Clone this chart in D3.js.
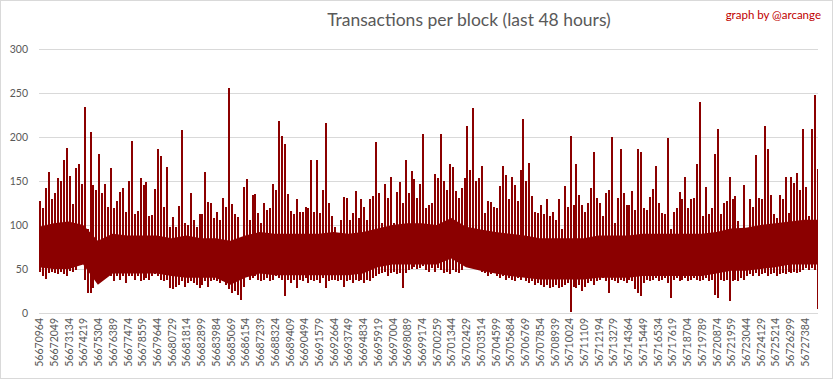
<!DOCTYPE html>
<html><head><meta charset="utf-8">
<script src="https://cdn.jsdelivr.net/npm/d3@7"></script>
<style>body{margin:0;background:#fff}svg{display:block}</style>
</head><body><svg id="c" width="833" height="379"></svg>
<script>
// ---- data ----
const firstBlock = 56670964;
const blockCount = 57400;      // blocks in the 48h window
const sampleSize = 217;        // blocks summarised per sample
const labelStep = 1085;        // blocks between axis labels
const tickLabels = ["56670964","56672049","56673134","56674219","56675304","56676389","56677474","56678559","56679644","56680729","56681814","56682899","56683984","56685069","56686154","56687239","56688324","56689409","56690494","56691579","56692664","56693749","56694834","56695919","56697004","56698089","56699174","56700259","56701344","56702429","56703514","56704599","56705684","56706769","56707854","56708939","56710024","56711109","56712194","56713279","56714364","56715449","56716534","56717619","56718704","56719789","56720874","56721959","56723044","56724129","56725214","56726299","56727384"];
const yTicks = [0,50,100,150,200,250,300];
// max transactions per 217-block sample
const sampleMax = [127,119,142,160,129,136,153,150,174,187,156,124,165,169,147,234,95,206,146,140,
181,136,147,121,165,119,127,137,142,115,150,196,112,116,153,145,149,110,111,141,
186,178,120,166,98,109,98,122,208,102,100,136,106,98,112,112,160,126,125,108,
115,106,131,120,256,124,112,109,80,143,152,106,134,135,114,102,125,117,119,147,
140,218,201,192,135,116,112,129,115,115,121,119,174,115,174,114,140,216,125,110,
98,91,106,132,131,106,114,139,108,129,121,106,129,133,194,136,102,147,131,154,
102,138,149,125,174,136,161,152,131,147,203,119,123,125,158,153,203,150,140,169,
166,139,131,142,153,213,163,233,150,153,167,114,127,126,121,119,144,167,157,129,
155,146,127,163,221,150,170,133,115,114,123,112,129,110,115,106,129,95,144,121,
201,123,169,134,123,115,125,142,183,131,125,110,136,140,200,102,131,186,136,123,
123,139,117,186,183,119,117,132,141,167,125,114,112,199,95,115,119,138,129,154,
119,129,131,169,240,110,143,112,119,181,209,112,125,127,155,129,133,104,95,146,
96,129,121,179,131,129,213,186,134,112,108,134,129,155,114,155,148,159,140,209,
143,110,209,248,164];
// min transactions per 217-block sample
const sampleMin = [47,42,39,45,47,45,44,47,44,42,48,47,49,55,60,38,23,23,28,42,
42,45,45,44,42,36,42,38,42,34,42,42,38,42,36,38,40,38,42,44,
42,38,36,38,28,27,30,32,36,30,34,36,34,32,28,32,36,30,36,38,
36,34,36,32,27,23,25,21,15,30,42,38,40,42,38,36,38,40,36,38,
42,40,38,19,38,34,38,28,38,36,40,34,38,36,38,34,40,28,36,38,
38,36,38,30,36,38,34,38,36,38,34,38,36,40,42,44,45,47,42,45,
47,44,45,28,45,49,50,52,50,51,53,49,47,51,47,51,49,45,47,44,
49,47,45,49,53,59,70,63,57,53,47,45,42,44,45,42,40,42,38,40,
38,36,40,38,42,36,34,36,32,34,32,30,32,28,30,32,28,30,32,34,
1,30,28,32,25,30,34,36,32,36,38,40,36,23,38,36,34,38,36,34,
38,36,27,23,19,34,38,36,38,40,36,38,40,34,17,38,40,36,38,40,
36,38,40,38,36,38,40,36,38,21,17,38,36,38,14,36,38,36,40,38,
42,44,42,45,42,44,45,42,44,45,42,44,45,44,47,45,47,45,47,49,
51,49,51,49,4];
// dense band (typical range) every 1085 blocks
const bandHigh = [98,102,104,100,82,90,88,88,88,85,88,85,85,82,88,92,90,90,90,90,
92,90,92,96,100,102,102,100,108,98,95,92,90,88,85,85,85,85,88,88,
88,90,90,90,90,90,92,96,97,100,102,104,106,106];
const bandLow = [52,50,50,55,32,45,45,45,45,42,40,40,40,32,40,45,43,43,43,43,
43,43,45,52,55,55,55,55,62,52,48,45,42,40,38,38,38,38,40,40,
40,42,42,42,42,42,45,48,48,50,52,55,55,55];

// ---- drawing ----
(function(){
const svg = d3.select("#c");
const W = 833, H = 379;
const pLeft = 39, pRight = 818, pTop = 49, pBottom = 313;
const red = "#8b0000";
const font = "Lato, 'Open Sans', sans-serif";

svg.append("rect").attr("x",0.5).attr("y",0.5).attr("width",W-1).attr("height",H-1)
  .attr("fill","#fff").attr("stroke","#d9d9d9");

const x = d3.scaleLinear().domain([0, blockCount]).range([pLeft, pRight]);
const y = d3.scaleLinear().domain([0, 300]).range([pBottom, pTop]);

svg.append("g").selectAll("line").data(yTicks).join("line")
  .attr("x1",pLeft).attr("x2",pRight)
  .attr("y1",d=>Math.round(y(d))+0.5).attr("y2",d=>Math.round(y(d))+0.5)
  .attr("stroke","#d9d9d9").attr("stroke-width",1);

const yAxis = d3.axisLeft(y).tickValues(yTicks).tickSize(0).tickPadding(0);
const gy = svg.append("g").attr("transform",`translate(${pLeft-11},0)`).call(yAxis);
gy.select(".domain").remove();
gy.selectAll("text").attr("font-family",font).attr("font-size",10.5).attr("fill","#595959");

svg.append("defs").append("clipPath").attr("id","plot")
  .append("rect").attr("x",pLeft).attr("y",0).attr("width",pRight-pLeft).attr("height",pBottom+6);

const g = svg.append("g").attr("clip-path","url(#plot)");

const area = d3.area()
  .x((d,k)=>x(k*labelStep))
  .y0((d,k)=>y(bandLow[k]))
  .y1(d=>y(d));
g.append("path").datum(bandHigh).attr("d",area).attr("fill",red);

g.append("g").attr("shape-rendering","crispEdges")
  .selectAll("line").data(sampleMax).join("line")
  .attr("x1",(d,i)=>x(sampleSize*(i+0.5))).attr("x2",(d,i)=>x(sampleSize*(i+0.5)))
  .attr("y1",d=>y(d)).attr("y2",(d,i)=>y(sampleMin[i]))
  .attr("stroke",red).attr("stroke-width",2);

const xAxis = d3.axisBottom(x)
  .tickValues(tickLabels.map((t,k)=>k*labelStep+0.5))
  .tickFormat((d,k)=>tickLabels[k]).tickSize(0).tickPadding(0);
const gx = svg.append("g").attr("transform",`translate(0,${pBottom})`).call(xAxis);
gx.select(".domain").remove();
gx.selectAll("text")
  .attr("font-family",font).attr("font-size",10.5).attr("fill","#595959")
  .attr("transform","rotate(-90)").attr("text-anchor","end")
  .attr("x",-5).attr("y",0).attr("dy","0.35em");

svg.append("text").attr("x",469).attr("y",26).attr("text-anchor","middle")
  .attr("font-family",font).attr("font-size",17.5).attr("fill","#595959")
  .text("Transactions per block (last 48 hours)");
svg.append("text").attr("x",821).attr("y",19).attr("text-anchor","end")
  .attr("font-family",font).attr("font-size",11.5).attr("fill","#c00000")
  .text("graph by @arcange");
})();
</script></body></html>
